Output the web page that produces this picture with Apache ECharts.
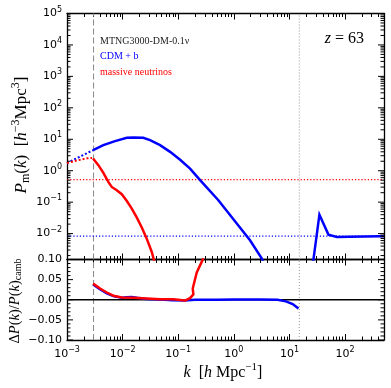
<!DOCTYPE html>
<html><head><meta charset="utf-8">
<script src="https://cdn.jsdelivr.net/npm/echarts@6/dist/echarts.min.js"></script>
<style>html,body{margin:0;padding:0;background:#fff}#c{width:391px;height:388px}</style>
</head><body><div id="c"></div>
<script>
// ---------------- data ----------------
// axis ranges
const kMin = 0.000999, kMax = 500;
const pMin = 1.5e-3, pMax = 1.0002e5;
const dMin = -0.1, dMax = 0.1, dStep = 0.05, dMinorStep = 0.01;
// tick label exponents
const xMajorExp = [-3, -2, -1, 0, 1, 2];
const yTopMajorExp = [-2, -1, 0, 1, 2, 3, 4, 5];
// reference lines
const kBox = 0.003;        // gray dashed vertical
const kNyq = 15;           // gray dotted vertical
const shotNu = 0.52;       // red dotted horizontal
const shotCdm = 0.0083;    // blue dotted horizontal
// CDM+b, low-k dotted part
const cdmLinK = [0.001, 0.00294];
const cdmLinP = [1.76, 4.5];
// neutrinos, low-k dotted part
const nuLinK = [0.001, 0.00131, 0.00173, 0.00229, 0.00282];
const nuLinP = [1.76, 1.98, 2.24, 2.47, 2.54];
// CDM+b measured P(k), first branch
const cdmK1 = [0.00294, 0.0045, 0.0073, 0.0119, 0.0156, 0.0235, 0.0311, 0.0471, 0.0713, 0.108, 0.163, 0.247, 0.526, 1.95, 3.18, 3.6];
const cdmP1 = [4.5, 6.5, 8.7, 11.2, 11.4, 11.2, 9.4, 6.5, 3.97, 2.24, 1.17, 0.50, 0.115, 0.0061, 0.0016, 0.0009];
// CDM+b measured P(k), second branch (beyond the gap)
const cdmK2 = [26.5, 34.5, 50.1, 71, 123, 427, 500];
const cdmP2 = [0.0012, 0.040, 0.0093, 0.0078, 0.0079, 0.0083, 0.0083];
// massive neutrinos measured P(k)
const nuK = [0.00294, 0.00366, 0.0045, 0.00553, 0.00637, 0.00783, 0.00964, 0.0119, 0.0146, 0.0180, 0.0221, 0.0271, 0.0334, 0.038];
const nuP = [2.45, 1.50, 0.85, 0.44, 0.305, 0.239, 0.179, 0.109, 0.0625, 0.0323, 0.0156, 0.0069, 0.0026, 0.0011];
// ratio panel: CDM+b
const cdmRK = [0.00294, 0.0039, 0.0052, 0.0068, 0.0096, 0.012, 0.0145, 0.018, 0.027, 0.047, 0.08, 0.13, 0.2, 0.5, 1.0, 3.0, 6.1, 8.6, 11.4, 14.5];
const cdmRD = [0.038, 0.026, 0.016, 0.009, 0.005, 0.006, 0.007, 0.005, 0.002, 0.0005, -0.001, -0.002, 0.0, 0.0, 0.0005, 0.0005, 0.0, -0.004, -0.0106, -0.022];
// ratio panel: neutrinos
const nuRK = [0.00294, 0.00393, 0.00518, 0.00681, 0.00964, 0.0156, 0.0271, 0.0471, 0.0817, 0.132, 0.163, 0.187, 0.182, 0.215, 0.276, 0.33];
const nuRD = [0.040, 0.028, 0.018, 0.010, 0.0056, 0.005, 0.003, 0.0015, 0.0015, -0.002, 0.004, 0.0135, 0.028, 0.068, 0.10, 0.14];

// ---------------- styling / building ----------------
const SANS = 'DejaVu Sans', SERIF = 'Liberation Serif';
const BLUE = '#0000ff', RED = '#ff0000';
const L = 67, W = 317, T0 = 13.5, H0 = 246, T1 = 259.5, H1 = 80.5;
const pairs = (xs, ys) => xs.map((x, i) => [x, ys[i]]);
const pow10 = e => Math.pow(10, e);
function minorLog(lo, hi) {
  const out = [];
  for (let e = Math.floor(Math.log10(lo)) - 1; e <= Math.ceil(Math.log10(hi)); e++)
    for (let m = 2; m <= 9; m++) { const v = m * pow10(e); if (v >= lo && v <= hi) out.push(v); }
  return out;
}
const xMajor = xMajorExp.map(pow10), xMinor = minorLog(kMin, kMax);
const yMajor = yTopMajorExp.map(pow10), yMinor = minorLog(pMin, pMax);
const dMajorTicks = [], dMinorTicks = [];
for (let i = Math.round(dMin / dMinorStep); i <= Math.round(dMax / dMinorStep); i++)
  (Math.abs(i) % 5 === 0 ? dMajorTicks : dMinorTicks).push(i * dMinorStep);

const expLabel = v => { const e = Math.round(Math.log10(v)); return '{b|10}{s|' + (e < 0 ? '\u2212' + (-e) : e) + '}'; };
const expRich = {
  b: { fontSize: 11, fontFamily: SANS, color: '#000' },
  s: { fontSize: 8, fontFamily: SANS, color: '#000', padding: [0, 0, 8, 0] }
};
const LINE = { color: '#000', width: 1.3 };
const TICK = { color: '#000', width: 1 };
const MAJ = 6, MIN = 3.5;

// x ticks: axis ticks point away from their own grid, so thin neighbouring grids give inward ticks
function logAxis(grid, pos, min, max, ticks, len, showLine, label) {
  return {
    type: 'log', logBase: 10, gridIndex: grid, position: pos, min: min, max: max,
    splitLine: { show: false }, minorTick: { show: false }, minorSplitLine: { show: false },
    axisLine: { show: showLine, onZero: false, lineStyle: LINE },
    axisTick: ticks ? { show: true, length: len, customValues: ticks, lineStyle: TICK } : { show: false },
    axisLabel: label || { show: false },
    silent: true
  };
}
function linAxis(grid, pos, label) {
  return {
    type: 'value', gridIndex: grid, position: pos, min: dMin, max: dMax, interval: dStep,
    splitLine: { show: false },
    axisLine: { show: true, onZero: false, lineStyle: LINE },
    axisTick: { show: false }, minorTick: { show: false },
    axisLabel: label || { show: false },
    silent: true
  };
}
const dummy = (grid) => ({ type: 'value', gridIndex: grid, show: false, min: 0, max: 1 });
const xLabel = { show: true, customValues: xMajor, formatter: expLabel, rich: expRich, margin: 6, color: '#000', fontFamily: SANS, fontSize: 11 };
const yLabel = { show: true, customValues: yMajor, formatter: expLabel, rich: expRich, margin: 5, color: '#000', fontFamily: SANS, fontSize: 11 };
const dLabel = { show: true, margin: 5, color: '#000', fontFamily: SANS, fontSize: 11,
  formatter: v => (v < -1e-9 ? '\u2212' : '') + Math.abs(v).toFixed(2) };

const lineSer = (x, y, data, color, width, type, z) => ({
  type: 'line', xAxisIndex: x, yAxisIndex: y, data: data, symbol: 'none', showSymbol: false,
  itemStyle: { color: color },
  lineStyle: { color: color, width: width, type: type, cap: 'butt', join: 'miter' },
  emphasis: { disabled: true }, silent: true, animation: false, z: z || 2, clip: false
});
// inward y ticks on both vertical frames: short horizontal segments through the log k scale
const pxPerDecade = W / Math.log10(kMax / kMin);
const kSpan = len => Math.pow(10, len / pxPerDecade);
function yTickData(vals, len) {
  const f = kSpan(len), out = [];
  vals.forEach(v => { out.push([kMin, v], [kMin * f, v], [kMin, '-'], [kMax / f, v], [kMax, v], [kMax, '-']); });
  return out;
}

const cdmData = pairs(cdmK1, cdmP1).concat([[10, '-']], pairs(cdmK2, cdmP2));

const mathRich = (fs) => {
  const s = Math.round(fs * 0.7);
  const base = { fontFamily: SERIF, fill: '#000', color: '#000' };
  return {
    i: Object.assign({ fontStyle: 'italic', fontSize: fs }, base),
    r: Object.assign({ fontSize: fs }, base),
    sup: Object.assign({ fontSize: s, padding: [0, 0, Math.round(fs * 0.75), 0] }, base),
    sub: Object.assign({ fontSize: s, padding: [Math.round(fs * 0.45), 0, 0, 0] }, base)
  };
};

const clipSer = s => Object.assign(s, { clip: true });

const option = {
  animation: false,
  backgroundColor: '#fff',
  grid: [
    { left: L, top: T0, width: W, height: H0, outerBoundsMode: 'none' },        // 0 main P(k)
    { left: L, top: T1, width: W, height: H1, outerBoundsMode: 'none' },        // 1 ratio
    { left: L, top: 0, width: W, height: T0, outerBoundsMode: 'none' },         // 2 strip above
    { left: L, top: T1 + H1, width: W, height: 10, outerBoundsMode: 'none' }    // 3 strip below
  ],
  xAxis: [
    logAxis(0, 'bottom', kMin, kMax, xMajor, MAJ, true),          // 0 (ticks down into ratio panel)
    logAxis(0, 'bottom', kMin, kMax, xMinor, MIN, false),         // 1
    logAxis(0, 'top', kMin, kMax, null, 0, true),                 // 2
    logAxis(1, 'bottom', kMin, kMax, null, 0, true, xLabel),      // 3
    logAxis(1, 'top', kMin, kMax, xMajor, MAJ, true),             // 4 (ticks up into P(k) panel)
    logAxis(1, 'top', kMin, kMax, xMinor, MIN, false),            // 5
    logAxis(2, 'bottom', kMin, kMax, xMajor, MAJ, false),         // 6 ticks down from top frame
    logAxis(2, 'bottom', kMin, kMax, xMinor, MIN, false),         // 7
    logAxis(3, 'top', kMin, kMax, xMajor, MAJ, false),            // 8 ticks up from bottom frame
    logAxis(3, 'top', kMin, kMax, xMinor, MIN, false)             // 9
  ],
  yAxis: [
    logAxis(0, 'left', pMin, pMax, null, 0, true, yLabel),        // 0
    logAxis(0, 'right', pMin, pMax, null, 0, true),               // 1
    linAxis(1, 'left', dLabel),                                   // 2
    linAxis(1, 'right'),                                          // 3
    dummy(2), dummy(3)                                            // 4,5
  ],
  series: [
    clipSer(lineSer(0, 0, [[kBox, pMin], [kBox, pMax]], '#888888', 1, [6, 3], 1)),
    clipSer(lineSer(0, 0, [[kNyq, pMin], [kNyq, pMax]], '#999999', 1, [1, 2], 1)),
    clipSer(lineSer(0, 0, [[kMin, shotNu], [kMax, shotNu]], RED, 1.1, [1.2, 2], 1)),
    clipSer(lineSer(0, 0, [[kMin, shotCdm], [kMax, shotCdm]], BLUE, 1.1, [1.2, 2], 1)),
    clipSer(lineSer(0, 0, pairs(cdmLinK, cdmLinP), BLUE, 2, [2, 2])),
    clipSer(lineSer(0, 0, pairs(nuLinK, nuLinP), RED, 2, [2, 2])),
    clipSer(lineSer(0, 0, cdmData, BLUE, 2.5, 'solid', 3)),
    clipSer(lineSer(0, 0, pairs(nuK, nuP), RED, 2.5, 'solid', 3)),
    clipSer(lineSer(3, 2, [[kBox, dMin], [kBox, dMax]], '#888888', 1, [6, 3], 1)),
    clipSer(lineSer(3, 2, [[kNyq, dMin], [kNyq, dMax]], '#999999', 1, [1, 2], 1)),
    clipSer(lineSer(3, 2, [[kMin, 0], [kMax, 0]], '#000000', 1.5, 'solid', 1)),
    clipSer(lineSer(3, 2, pairs(cdmRK, cdmRD), BLUE, 2.5, 'solid', 3)),
    clipSer(lineSer(3, 2, pairs(nuRK, nuRD), RED, 2.5, 'solid', 4)),
    lineSer(0, 0, yTickData(yMajor, MAJ), '#000000', 1, 'solid', 5),
    lineSer(0, 0, yTickData(yMinor, MIN), '#000000', 1, 'solid', 5),
    lineSer(3, 2, yTickData(dMajorTicks, MAJ), '#000000', 1, 'solid', 5),
    lineSer(3, 2, yTickData(dMinorTicks, MIN), '#000000', 1, 'solid', 5)
  ],
  graphic: [
    { type: 'text', x: 100, y: 41, silent: true, style: { text: 'MTNG3000-DM-0.1\u03bd', fill: '#222', fontSize: 10, fontFamily: SERIF, align: 'left', verticalAlign: 'middle' } },
    { type: 'text', x: 100, y: 56.5, silent: true, style: { text: 'CDM + b', fill: BLUE, fontSize: 10, fontFamily: SERIF, align: 'left', verticalAlign: 'middle' } },
    { type: 'text', x: 100, y: 72.5, silent: true, style: { text: 'massive neutrinos', fill: RED, fontSize: 10, fontFamily: SERIF, align: 'left', verticalAlign: 'middle' } },
    { type: 'text', x: 364, y: 39, silent: true, style: { text: '{i|z}{r| = 63}', rich: mathRich(16), align: 'right', verticalAlign: 'middle' } },
    { type: 'text', x: 22, y: 135, rotation: Math.PI / 2, silent: true, style: {
      text: '{i|P}{sub|m}{r|(}{i|k}{r|)  [}{i|h}{sup|\u22123}{r|Mpc}{sup|3}{r|]}', rich: mathRich(17), align: 'center', verticalAlign: 'middle' } },
    { type: 'text', x: 15, y: 301, rotation: Math.PI / 2, silent: true, style: {
      text: '{r|\u0394}{i|P}{r|(}{i|k}{r|)/}{i|P}{r|(}{i|k}{r|)}{sub|camb}', rich: mathRich(14.5), align: 'center', verticalAlign: 'middle' } },
    { type: 'text', x: 223, y: 373, silent: true, style: {
      text: '{i|k}{r|  [}{i|h}{r| Mpc}{sup|\u22121}{r|]}', rich: mathRich(16), align: 'center', verticalAlign: 'middle' } }
  ]
};
const chart = echarts.init(document.getElementById('c'), null, { renderer: 'canvas', width: 391, height: 388 });
chart.setOption(option);
</script></body></html>
